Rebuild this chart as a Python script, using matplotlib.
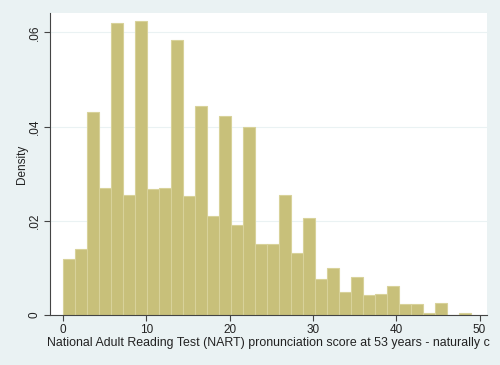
import numpy as np
import matplotlib
matplotlib.use("Agg")
import matplotlib.pyplot as plt

# histogram: 34 bins from 0 to 49, densities
bin_lo, bin_hi, n_bins = 0, 49, 34
density = [0.0118, 0.0140, 0.0431, 0.0269, 0.0621, 0.0255, 0.0624, 0.0267,
           0.0269, 0.0585, 0.0252, 0.0444, 0.0211, 0.0422, 0.0191, 0.0400,
           0.0150, 0.0150, 0.0255, 0.0131, 0.0205, 0.0077, 0.0100, 0.0048,
           0.0081, 0.0042, 0.0044, 0.0061, 0.0023, 0.0023, 0.0005, 0.0026,
           0.0, 0.0005]
xticks = [0, 10, 20, 30, 40, 50]
yticks = [0, 0.02, 0.04, 0.06]
ytick_labels = ["0", ".02", ".04", ".06"]
xlabel = "National Adult Reading Test (NART) pronunciation score at 53 years - naturally c"

bg = "#eaf2f3"
bar_col = "#c8c07a"
edge_col = "#d8d29a"
axis_col = "#444444"

plt.rcParams['font.family'] = ['Liberation Sans', 'DejaVu Sans']

fig = plt.figure(figsize=(5, 3.65), dpi=100, facecolor=bg)
ax = fig.add_axes([0.10, 0.137, 0.874, 0.827])
ax.set_facecolor("white")

edges = np.linspace(bin_lo, bin_hi, n_bins + 1)
ax.bar(edges[:-1], density, width=np.diff(edges), align="edge",
       color=bar_col, edgecolor=edge_col, linewidth=0.8, zorder=2)

ax.set_xlim(-1.57, 50.9)
ax.set_ylim(0, 0.0641)

ax.set_yticks(yticks)
ax.set_yticklabels(ytick_labels, rotation=90, va="center")
ax.set_xticks(xticks)
ax.yaxis.grid(True, color="#eaf2f3", linewidth=0.8, zorder=0)
ax.tick_params(axis="both", labelsize=8.5, colors=axis_col, length=4, width=0.8,
               labelcolor="#222222", pad=2.5)

for s in ["top", "right"]:
    ax.spines[s].set_visible(False)
for s in ["left", "bottom"]:
    ax.spines[s].set_color(axis_col)
    ax.spines[s].set_linewidth(0.8)

ax.set_ylabel("Density", fontsize=8.5, color="#222222", labelpad=1)
ax.set_xlabel(xlabel, fontsize=8.9, color="#222222", labelpad=1)

fig.savefig("out.png", dpi=100, facecolor=bg)
